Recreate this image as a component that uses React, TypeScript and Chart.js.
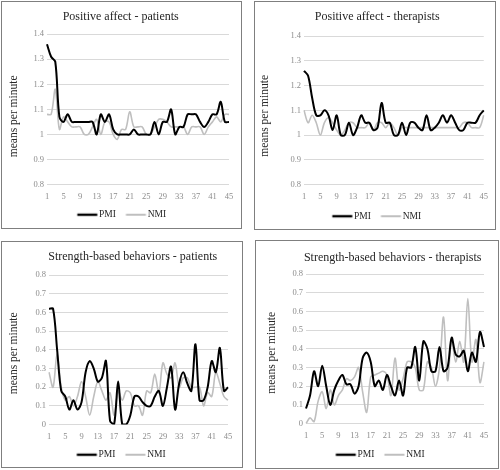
import React, { useEffect, useRef } from "react";
import { Chart, registerables } from "chart.js";

Chart.register(...registerables);

const SESSIONS = [
  "1","2","3","4","5","6","7","8","9","10","11","12","13","14","15","16","17","18","19","20","21","22","23",
  "24","25","26","27","28","29","30","31","32","33","34","35","36","37","38","39","40","41","42","43","44","45",
];

const AFFECT_TICKS = [0.8, 0.9, 1.0, 1.1, 1.2, 1.3, 1.4];
const STRENGTH_TICKS = [0, 0.1, 0.2, 0.3, 0.4, 0.5, 0.6, 0.7, 0.8];

const AFFECT_PAT_PMI = [
  1.36, 1.31, 1.29, 1.07, 1.05, 1.08, 1.05, 1.05, 1.05, 1.05, 1.05, 1.05, 1.0, 1.08, 1.05, 1.08, 1.02, 1.0, 1.0, 1.0,
  1.0, 1.02, 1.0, 1.0, 1.0, 1.0, 1.05, 1.0, 1.05, 1.05, 1.1, 1.0, 1.03, 1.03, 1.08, 1.08, 1.08, 1.05, 1.03, 1.05,
  1.08, 1.08, 1.13, 1.05, 1.05,
];
const AFFECT_PAT_NMI = [
  1.08, 1.08, 1.18, 1.02, 1.07, 1.05, 1.03, 1.03, 1.03, 1.0, 1.0, 1.03, 1.06, 1.0, 1.05, 1.05, 1.0, 0.98, 1.02, 1.02,
  1.09, 1.03, 1.03, 1.03, 1.0, 1.0, 1.03, 1.06, 1.06, 1.05, 1.03, 1.03, 1.03, 1.03, 1.0, 1.03, 1.03, 1.03, 1.0, 1.03,
  1.05, 1.07, 1.05, 1.08, 1.08,
];
const AFFECT_THER_PMI = [
  1.26, 1.24, 1.15, 1.08, 1.08, 1.1, 1.08, 1.02, 1.08, 1.0, 1.0, 1.05, 1.0, 1.03, 1.08, 1.05, 1.05, 1.02, 1.03, 1.13,
  1.05, 1.05, 1.0, 1.0, 1.05, 1.0, 1.05, 1.05, 1.03, 1.02, 1.08, 1.02, 1.03, 1.05, 1.08, 1.05, 1.08, 1.05, 1.02, 1.02,
  1.05, 1.05, 1.05, 1.08, 1.1,
];
const AFFECT_THER_NMI = [
  1.1, 1.05, 1.08, 1.05, 1.0, 1.05, 1.07, 1.05, 1.02, 1.0, 1.02, 1.05, 1.05, 1.03, 1.03, 1.03, 1.05, 1.02, 1.05, 1.05,
  1.03, 1.05, 1.03, 1.0, 1.03, 1.03, 1.03, 1.03, 1.03, 1.03, 1.03, 1.03, 1.03, 1.03, 1.03, 1.03, 1.03, 1.03, 1.03, 1.05,
  1.05, 1.03, 1.03, 1.03, 1.08,
];
const STRENGTH_PAT_PMI = [
  0.62, 0.62, 0.4, 0.18, 0.15, 0.08, 0.13, 0.08, 0.12, 0.28, 0.34, 0.3, 0.23, 0.25, 0.34, 0.02, 0.0, 0.23, 0.0, 0.0,
  0.05, 0.15, 0.15, 0.12, 0.1, 0.1, 0.15, 0.18, 0.1, 0.2, 0.31, 0.08, 0.22, 0.28, 0.22, 0.18, 0.43, 0.13, 0.13, 0.2,
  0.34, 0.28, 0.41, 0.18, 0.2,
];
const STRENGTH_PAT_NMI = [
  0.28, 0.2, 0.38, 0.2, 0.13, 0.15, 0.1, 0.15, 0.23, 0.15, 0.05, 0.15, 0.23, 0.18, 0.13, 0.17, 0.05, 0.18, 0.13, 0.18,
  0.17, 0.1, 0.1, 0.05, 0.18, 0.17, 0.27, 0.17, 0.33, 0.27, 0.25, 0.33, 0.2, 0.25, 0.25, 0.2, 0.2, 0.2, 0.1, 0.17,
  0.15, 0.28, 0.22, 0.15, 0.13,
];
const STRENGTH_THER_PMI = [
  0.08, 0.15, 0.28, 0.2, 0.31, 0.2, 0.1, 0.18, 0.23, 0.26, 0.21, 0.21, 0.16, 0.2, 0.35, 0.38, 0.33, 0.2, 0.23, 0.18,
  0.26, 0.2, 0.15, 0.23, 0.15, 0.3, 0.3, 0.41, 0.23, 0.44, 0.4, 0.28, 0.28, 0.41, 0.28, 0.3, 0.46, 0.37, 0.36, 0.39,
  0.28, 0.38, 0.33, 0.49, 0.41,
];
const STRENGTH_THER_NMI = [
  0.0, 0.03, 0.01, 0.12, 0.17, 0.08, 0.18, 0.1, 0.15, 0.18, 0.24, 0.23, 0.25, 0.3, 0.17, 0.06, 0.25, 0.26, 0.27, 0.28,
  0.26, 0.15, 0.35, 0.18, 0.24, 0.33, 0.33, 0.3, 0.18, 0.18, 0.33, 0.3, 0.2, 0.3, 0.57, 0.23, 0.45, 0.33, 0.44, 0.33,
  0.67, 0.33, 0.45, 0.22, 0.33,
];

const SERIF = "'Liberation Serif', 'Times New Roman', serif";
const Y_TITLE = "means per minute";

type Geo = {
  left: number;
  top: number;
  width: number;
  height: number;
  titleTop: number;
  titleBottom: number;
  padLeft: number;
  yWidth: number;
  padRight: number;
  xHeight: number;
  padBottom: number;
  yTitleX: number;
  yTitleDy: number;
  titleDx: number;
  legendDx: number;
};

type PanelProps = {
  title: string;
  pmi: number[];
  nmi: number[];
  ticks: number[];
  geo: Geo;
};

// legend sample: a short line placed so that it sits close to its text
function legendLine(color: string, width: number) {
  const c = document.createElement("canvas");
  c.width = 40;
  c.height = 6;
  const g = c.getContext("2d");
  if (g) {
    g.strokeStyle = color;
    g.lineWidth = width;
    g.beginPath();
    g.moveTo(11.5, 3);
    g.lineTo(31.5, 3);
    g.stroke();
  }
  return c;
}

const yTitlePlugin = {
  id: "yTitle",
  afterDraw(chart: any, _args: any, opts: any) {
    const { ctx, chartArea } = chart;
    ctx.save();
    ctx.translate(opts.x, (chartArea.top + chartArea.bottom) / 2 + opts.dy);
    ctx.rotate(-Math.PI / 2);
    ctx.textAlign = "center";
    ctx.textBaseline = "middle";
    ctx.font = `11.5px ${SERIF}`;
    ctx.fillStyle = "#262626";
    ctx.fillText(opts.text, 0, 0);
    ctx.restore();
  },
};

const shiftPlugin = {
  id: "shiftBoxes",
  afterLayout(chart: any, _args: any, opts: any) {
    const t = chart.titleBlock;
    if (t) {
      t.left += opts.title;
      t.right += opts.title;
    }
    const l = chart.legend;
    if (l) {
      l.left += opts.legend;
      l.right += opts.legend;
    }
  },
};

function Panel({ title, pmi, nmi, ticks, geo }: PanelProps) {
  const ref = useRef<HTMLCanvasElement | null>(null);
  useEffect(() => {
    if (!ref.current) return;
    const chart = new Chart(ref.current, {
      type: "line",
      data: {
        labels: SESSIONS,
        datasets: [
          {
            label: "PMI",
            data: pmi,
            borderColor: "#000000",
            backgroundColor: "#000000",
            borderWidth: 2,
            pointRadius: 0,
            pointStyle: legendLine("#000000", 2.4),
            tension: 0.33,
          },
          {
            label: "NMI",
            data: nmi,
            borderColor: "#bfbfbf",
            backgroundColor: "#bfbfbf",
            borderWidth: 1.6,
            pointRadius: 0,
            pointStyle: legendLine("#bfbfbf", 2),
            tension: 0.33,
          },
        ],
      },
      plugins: [yTitlePlugin, shiftPlugin],
      options: {
        animation: false,
        responsive: false,
        events: [],
        layout: { padding: { left: geo.padLeft, right: geo.padRight, top: 0, bottom: geo.padBottom } },
        plugins: {
          yTitle: { x: geo.yTitleX, dy: geo.yTitleDy, text: Y_TITLE },
          shiftBoxes: { title: geo.titleDx, legend: geo.legendDx },
          title: {
            display: true,
            text: title,
            color: "#262626",
            font: { family: SERIF, size: 12, weight: "normal" },
            padding: { top: geo.titleTop, bottom: geo.titleBottom },
          },
          legend: {
            position: "bottom",
            labels: {
              usePointStyle: true,
              pointStyleWidth: 17,
              color: "#262626",
              font: { family: SERIF, size: 9.5 },
              padding: 10,
            },
          },
          tooltip: { enabled: false },
        },
        scales: {
          x: {
            offset: false,
            grid: { display: false, drawTicks: false },
            border: { display: false },
            afterFit: (scale: any) => {
              scale.height = geo.xHeight;
            },
            ticks: {
              autoSkip: false,
              maxRotation: 0,
              minRotation: 0,
              padding: 7,
              color: "#8c8c8c",
              font: { family: SERIF, size: 8.5 },
              callback: (_v: any, i: number) => (i % 4 === 0 ? SESSIONS[i] : ""),
            },
          },
          y: {
            min: ticks[0],
            max: ticks[ticks.length - 1],
            afterBuildTicks: (scale: any) => {
              scale.ticks = ticks.map((v) => ({ value: v }));
            },
            afterFit: (scale: any) => {
              scale.width = geo.yWidth;
            },
            grid: { color: "#d9d9d9", lineWidth: 1, drawTicks: false },
            border: { display: false },
            ticks: {
              padding: 3,
              color: "#8c8c8c",
              font: { family: SERIF, size: 8.5 },
              callback: (v: any) => String(Math.round(Number(v) * 10) / 10),
            },
          },
        },
      },
    } as any);
    return () => chart.destroy();
  }, []);
  return (
    <div
      style={{
        position: "absolute",
        left: geo.left,
        top: geo.top,
        width: geo.width,
        height: geo.height,
        border: "1px solid #7f7f7f",
        boxSizing: "border-box",
        background: "#fff",
      }}
    >
      <canvas ref={ref} width={geo.width - 2} height={geo.height - 2} style={{ display: "block" }} />
    </div>
  );
}

const GEO1: Geo = { left: 1, top: 1, width: 241, height: 228, titleTop: 7.4, titleBottom: 10.4, padLeft: 5.4, yWidth: 39.6, padRight: 12, xHeight: 15.5, padBottom: -1.5, yTitleX: 12, yTitleDy: 7, titleDx: 2.5, legendDx: 3.5 };
const GEO2: Geo = { left: 254, top: 1, width: 242, height: 229, titleTop: 7.9, titleBottom: 11.9, padLeft: 3.4, yWidth: 45.6, padRight: 11, xHeight: 17, padBottom: -2, yTitleX: 10, yTitleDy: 5.5, titleDx: 6, legendDx: 5.5 };
const GEO3: Geo = { left: 1, top: 241, width: 242, height: 227, titleTop: 7.9, titleBottom: 10.9, padLeft: 5.4, yWidth: 41.6, padRight: 14, xHeight: 15.5, padBottom: -2.5, yTitleX: 12, yTitleDy: 3.5, titleDx: 15, legendDx: 3.5 };
const GEO4: Geo = { left: 255, top: 240, width: 244, height: 229, titleTop: 9.4, titleBottom: 9.4, padLeft: 9.4, yWidth: 40.6, padRight: 14, xHeight: 16.5, padBottom: -1.5, yTitleX: 16, yTitleDy: 4, titleDx: 18, legendDx: 5.5 };

export default function App() {
  return (
    <div style={{ position: "fixed", left: 0, top: 0, width: 500, height: 470, background: "#fff" }}>
      <Panel title="Positive affect - patients" pmi={AFFECT_PAT_PMI} nmi={AFFECT_PAT_NMI} ticks={AFFECT_TICKS} geo={GEO1} />
      <Panel title="Positive affect - therapists" pmi={AFFECT_THER_PMI} nmi={AFFECT_THER_NMI} ticks={AFFECT_TICKS} geo={GEO2} />
      <Panel title="Strength-based behaviors - patients" pmi={STRENGTH_PAT_PMI} nmi={STRENGTH_PAT_NMI} ticks={STRENGTH_TICKS} geo={GEO3} />
      <Panel title="Strength-based behaviors - therapists" pmi={STRENGTH_THER_PMI} nmi={STRENGTH_THER_NMI} ticks={STRENGTH_TICKS} geo={GEO4} />
    </div>
  );
}
